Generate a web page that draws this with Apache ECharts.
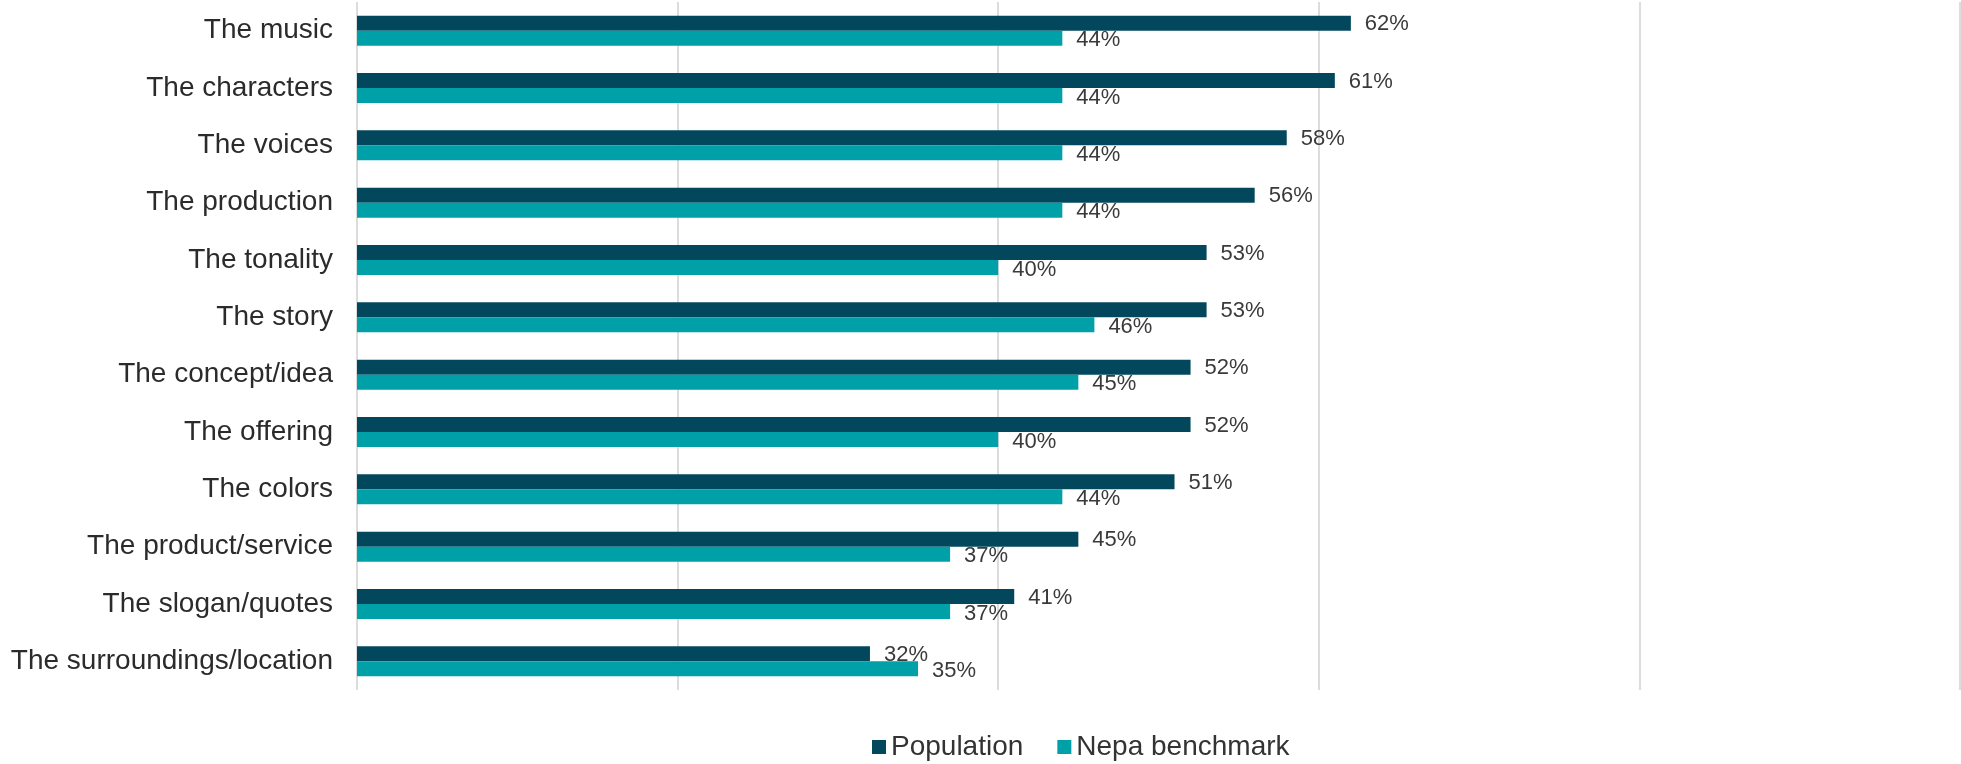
<!DOCTYPE html>
<html>
<head>
<meta charset="utf-8">
<title>Appreciated ad elements</title>
<script src="https://cdn.jsdelivr.net/npm/echarts@6/dist/echarts.min.js"></script>
<style>
  html, body { margin: 0; padding: 0; background: #ffffff; }
  #chart { width: 1961px; height: 764px; }
</style>
</head>
<body>
<div id="chart"></div>
<script>
// Ad elements, listed top to bottom
const categories = [
  'The music', 'The characters', 'The voices', 'The production',
  'The tonality', 'The story', 'The concept/idea', 'The offering',
  'The colors', 'The product/service', 'The slogan/quotes', 'The surroundings/location'
];
// Share of respondents (%)
const population = [62, 61, 58, 56, 53, 53, 52, 52, 51, 45, 41, 32];
const nepaBenchmark = [44, 44, 44, 44, 40, 46, 45, 40, 44, 37, 37, 35];
const seriesNames = ['Population', 'Nepa benchmark'];

const FONT = '"Liberation Sans", Arial, Helvetica, sans-serif';
const DARK = '#03475d';
const TEAL = '#00a0a9';

const chart = echarts.init(document.getElementById('chart'), null, { renderer: 'canvas' });

function valueLabel(dy) {
  return {
    show: true,
    position: 'right',
    distance: 14,
    offset: [0, dy],
    formatter: p => p.value + '%',
    color: '#3a3a3a',
    fontFamily: FONT,
    fontSize: 22
  };
}

chart.setOption({
  animation: false,
  backgroundColor: '#ffffff',
  grid: { left: 357, right: 1, top: 2, bottom: 74, containLabel: false },
  legend: {
    data: seriesNames,
    left: 867,
    top: 728,
    icon: 'rect',
    itemWidth: 14,
    itemHeight: 14,
    itemGap: 34,
    textStyle: { color: '#333333', fontFamily: FONT, fontSize: 28 }
  },
  xAxis: {
    type: 'value',
    min: 0,
    max: 100,
    interval: 20,
    axisLabel: { show: false },
    axisLine: { show: false },
    axisTick: { show: false },
    splitLine: { show: true, lineStyle: { color: '#dcdcdc', width: 2 } }
  },
  yAxis: {
    type: 'category',
    data: categories,
    inverse: true,
    axisLine: { show: false },
    axisTick: { show: false },
    axisLabel: {
      margin: 24,
      color: '#2b2b2b',
      fontFamily: FONT,
      fontSize: 28
    }
  },
  series: [
    {
      name: seriesNames[0],
      type: 'bar',
      data: population,
      barWidth: 15,
      barGap: '0%',
      itemStyle: { color: DARK },
      label: valueLabel(1)
    },
    {
      name: seriesNames[1],
      type: 'bar',
      data: nepaBenchmark,
      barWidth: 15,
      itemStyle: { color: TEAL },
      label: valueLabel(2)
    }
  ]
});
</script>
</body>
</html>
